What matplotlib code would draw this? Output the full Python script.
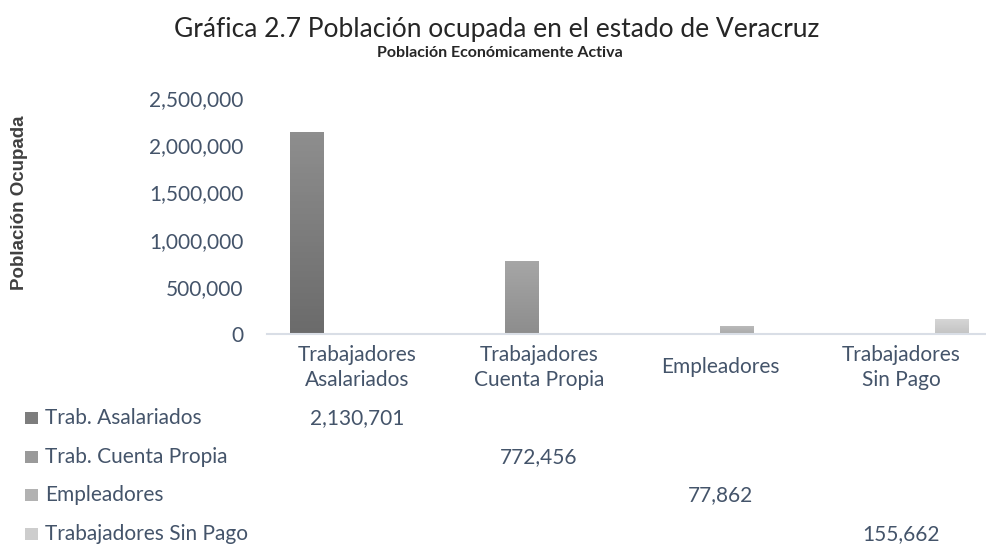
import numpy as np
import matplotlib
matplotlib.use("Agg")
import matplotlib.pyplot as plt
from matplotlib.patches import Rectangle
from matplotlib.transforms import blended_transform_factory

# datos
categories = ["Trabajadores\nAsalariados", "Trabajadores\nCuenta Propia",
              "Empleadores", "Trabajadores\nSin Pago"]
series_names = ["Trab. Asalariados", "Trab. Cuenta Propia",
                "Empleadores", "Trabajadores Sin Pago"]
values = [2130701, 772456, 77862, 155662]
# colores (arriba, abajo) del degradado de cada serie
top_colors = ["#8e8e8e", "#a6a6a6", "#bababa", "#d6d6d6"]
bottom_colors = ["#6b6b6b", "#8d8d8d", "#a9a9a9", "#c3c3c3"]
yticks = [0, 500000, 1000000, 1500000, 2000000, 2500000]

text_color = "#44546A"
plt.rcParams['font.family'] = ['Lato', 'DejaVu Sans']

W, H = 987, 544
fig = plt.figure(figsize=(W / 100, H / 100), dpi=100)
ax = fig.add_axes([267 / W, (H - 334) / H, 725 / W, 236 / H])

n = len(series_names)
bw = 0.75 / n
x = np.arange(len(categories))


def hex2rgb(c):
    return np.array([int(c[i:i + 2], 16) / 255 for i in (1, 3, 5)])


for j in range(n):
    xpos = x[j] + (j - (n - 1) / 2) * bw
    bars = ax.bar(xpos, values[j], width=bw, color="none", edgecolor="none")
    for b in bars:
        x0, y0 = b.get_x(), b.get_y()
        x1, y1 = x0 + b.get_width(), y0 + b.get_height()
        t = np.linspace(0, 1, 64)[:, None]
        grad = hex2rgb(top_colors[j]) * (1 - t) + hex2rgb(bottom_colors[j]) * t
        ax.imshow(grad[:, None, :], extent=[x0, x1, y0, y1],
                  aspect="auto", origin="upper", zorder=2)

ax.set_xlim(-0.5, len(categories) - 0.5)
ax.set_ylim(0, 2500000)
ax.set_yticks(yticks)
ax.set_yticklabels([f"{v:,}" for v in yticks], color=text_color, fontsize=15)
ax.set_xticks(x)
ax.set_xticklabels(categories, color=text_color, fontsize=15, va="center",
                   linespacing=1.3)
ax.tick_params(axis="y", length=0, pad=17)
ax.tick_params(axis="x", length=0, pad=24)
for s in ["top", "right", "left"]:
    ax.spines[s].set_visible(False)
ax.spines["bottom"].set_color("#D9DEE6")
ax.spines["bottom"].set_linewidth(1.5)

fig.text(497 / W, 1 - 29 / H, "Gráfica 2.7 Población ocupada en el estado de Veracruz",
         ha="center", va="center", fontsize=19, color="#262626")
fig.text(500 / W, 1 - 53 / H, "Población Económicamente Activa",
         ha="center", va="center", fontsize=11.5, fontweight="bold", color="#262626")
fig.text(20 / W, 1 - 203 / H, "Población Ocupada", rotation=90,
         ha="center", va="center", fontsize=13.5, fontweight="bold",
         color="#404040", family=["Liberation Sans", "DejaVu Sans"])

# tabla de datos
row_y = [418, 457, 495, 534]
tr = blended_transform_factory(ax.transData, fig.transFigure)
for j in range(n):
    yy = 1 - row_y[j] / H
    mid = (hex2rgb(top_colors[j]) + hex2rgb(bottom_colors[j])) / 2
    fig.patches.append(Rectangle((25 / W, yy - 6 / H), 13 / W, 12 / H,
                                 transform=fig.transFigure, facecolor=mid,
                                 edgecolor="none"))
    fig.text(45 / W, yy, series_names[j], ha="left", va="center",
             fontsize=15, color=text_color)
    fig.text(x[j], yy, f"{values[j]:,}", transform=tr, ha="center",
             va="center", fontsize=15, color=text_color)

fig.savefig("out.png", dpi=100)
